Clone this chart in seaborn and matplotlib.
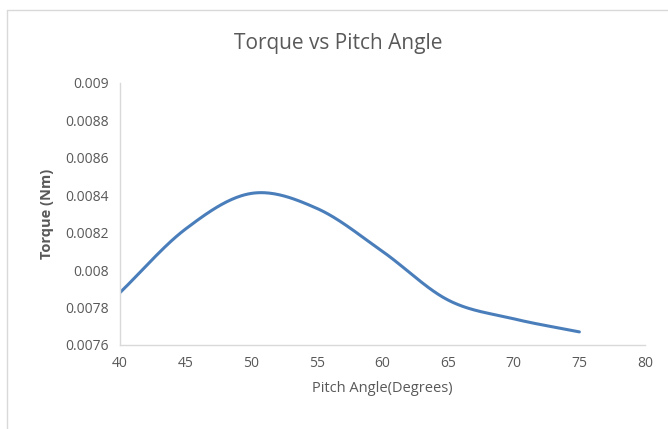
import numpy as np
import pandas as pd
import matplotlib
matplotlib.use("Agg")
import matplotlib.pyplot as plt
import seaborn as sns
from matplotlib.lines import Line2D

# Data
pitch_angle = [40, 45, 50, 55, 60, 65, 70, 75]
torque = [0.00788, 0.00822, 0.00841, 0.00833, 0.00810, 0.00784, 0.00774, 0.00767]
x_ticks = [40, 45, 50, 55, 60, 65, 70, 75, 80]
y_ticks = [0.0076, 0.0078, 0.008, 0.0082, 0.0084, 0.0086, 0.0088, 0.009]
y_tick_labels = ["0.0076", "0.0078", "0.008", "0.0082", "0.0084", "0.0086", "0.0088", "0.009"]


def smooth(xs, ys, n=40):
    # Catmull-Rom spline through the data points (Excel-style smoothed line)
    xs = np.asarray(xs, float)
    ys = np.asarray(ys, float)
    px = np.concatenate([[2 * xs[0] - xs[1]], xs, [2 * xs[-1] - xs[-2]]])
    py = np.concatenate([[2 * ys[0] - ys[1]], ys, [2 * ys[-1] - ys[-2]]])
    ox, oy = [], []
    t = np.linspace(0, 1, n, endpoint=False)
    for i in range(1, len(px) - 2):
        for arr, out in ((px, ox), (py, oy)):
            p0, p1, p2, p3 = arr[i - 1], arr[i], arr[i + 1], arr[i + 2]
            out.extend(0.5 * ((2 * p1) + (-p0 + p2) * t
                              + (2 * p0 - 5 * p1 + 4 * p2 - p3) * t ** 2
                              + (-p0 + 3 * p1 - 3 * p2 + p3) * t ** 3))
    ox.append(xs[-1])
    oy.append(ys[-1])
    return np.array(ox), np.array(oy)


sx, sy = smooth(pitch_angle, torque)
df = pd.DataFrame({"angle": sx, "torque": sy})

sns.set_theme(style="white")
plt.rcParams["font.family"] = ["Open Sans", "DejaVu Sans"]

fig = plt.figure(figsize=(6.68, 4.29), dpi=100)
ax = fig.add_axes([120 / 668, 1 - 345 / 429, (645 - 120) / 668, (345 - 83) / 429])

sns.lineplot(data=df, x="angle", y="torque", ax=ax, color="#4a7ebb",
             linewidth=2.2, sort=False, estimator=None)

ax.set_xlim(40, 80)
ax.set_ylim(0.0076, 0.009)
ax.set_xticks(x_ticks)
ax.set_xticklabels([str(v) for v in x_ticks])
ax.set_yticks(y_ticks)
ax.set_yticklabels(y_tick_labels)
ax.tick_params(axis="both", colors="#595959", labelsize=10, length=0, pad=8)
for s in ["top", "right"]:
    ax.spines[s].set_visible(False)
for s in ["left", "bottom"]:
    ax.spines[s].set_color("#d9d9d9")
    ax.spines[s].set_linewidth(1.0)

ax.set_xlabel("Pitch Angle(Degrees)", color="#595959", fontsize=10.5, labelpad=7)
ax.set_ylabel("Torque (Nm)", color="#595959", fontsize=10.5, fontweight="bold", labelpad=8)
fig.text(338 / 668, 1 - 44 / 429, "Torque vs Pitch Angle", ha="center", va="center",
         color="#595959", fontsize=15)

# chart-area border lines (left and top)
fig.add_artist(Line2D([7 / 668, 7 / 668], [0, 1 - 10 / 429], transform=fig.transFigure,
                      color="#d9d9d9", linewidth=1))
fig.add_artist(Line2D([7 / 668, 1], [1 - 10 / 429, 1 - 10 / 429], transform=fig.transFigure,
                      color="#d9d9d9", linewidth=1))

fig.savefig("out.png", dpi=100)
